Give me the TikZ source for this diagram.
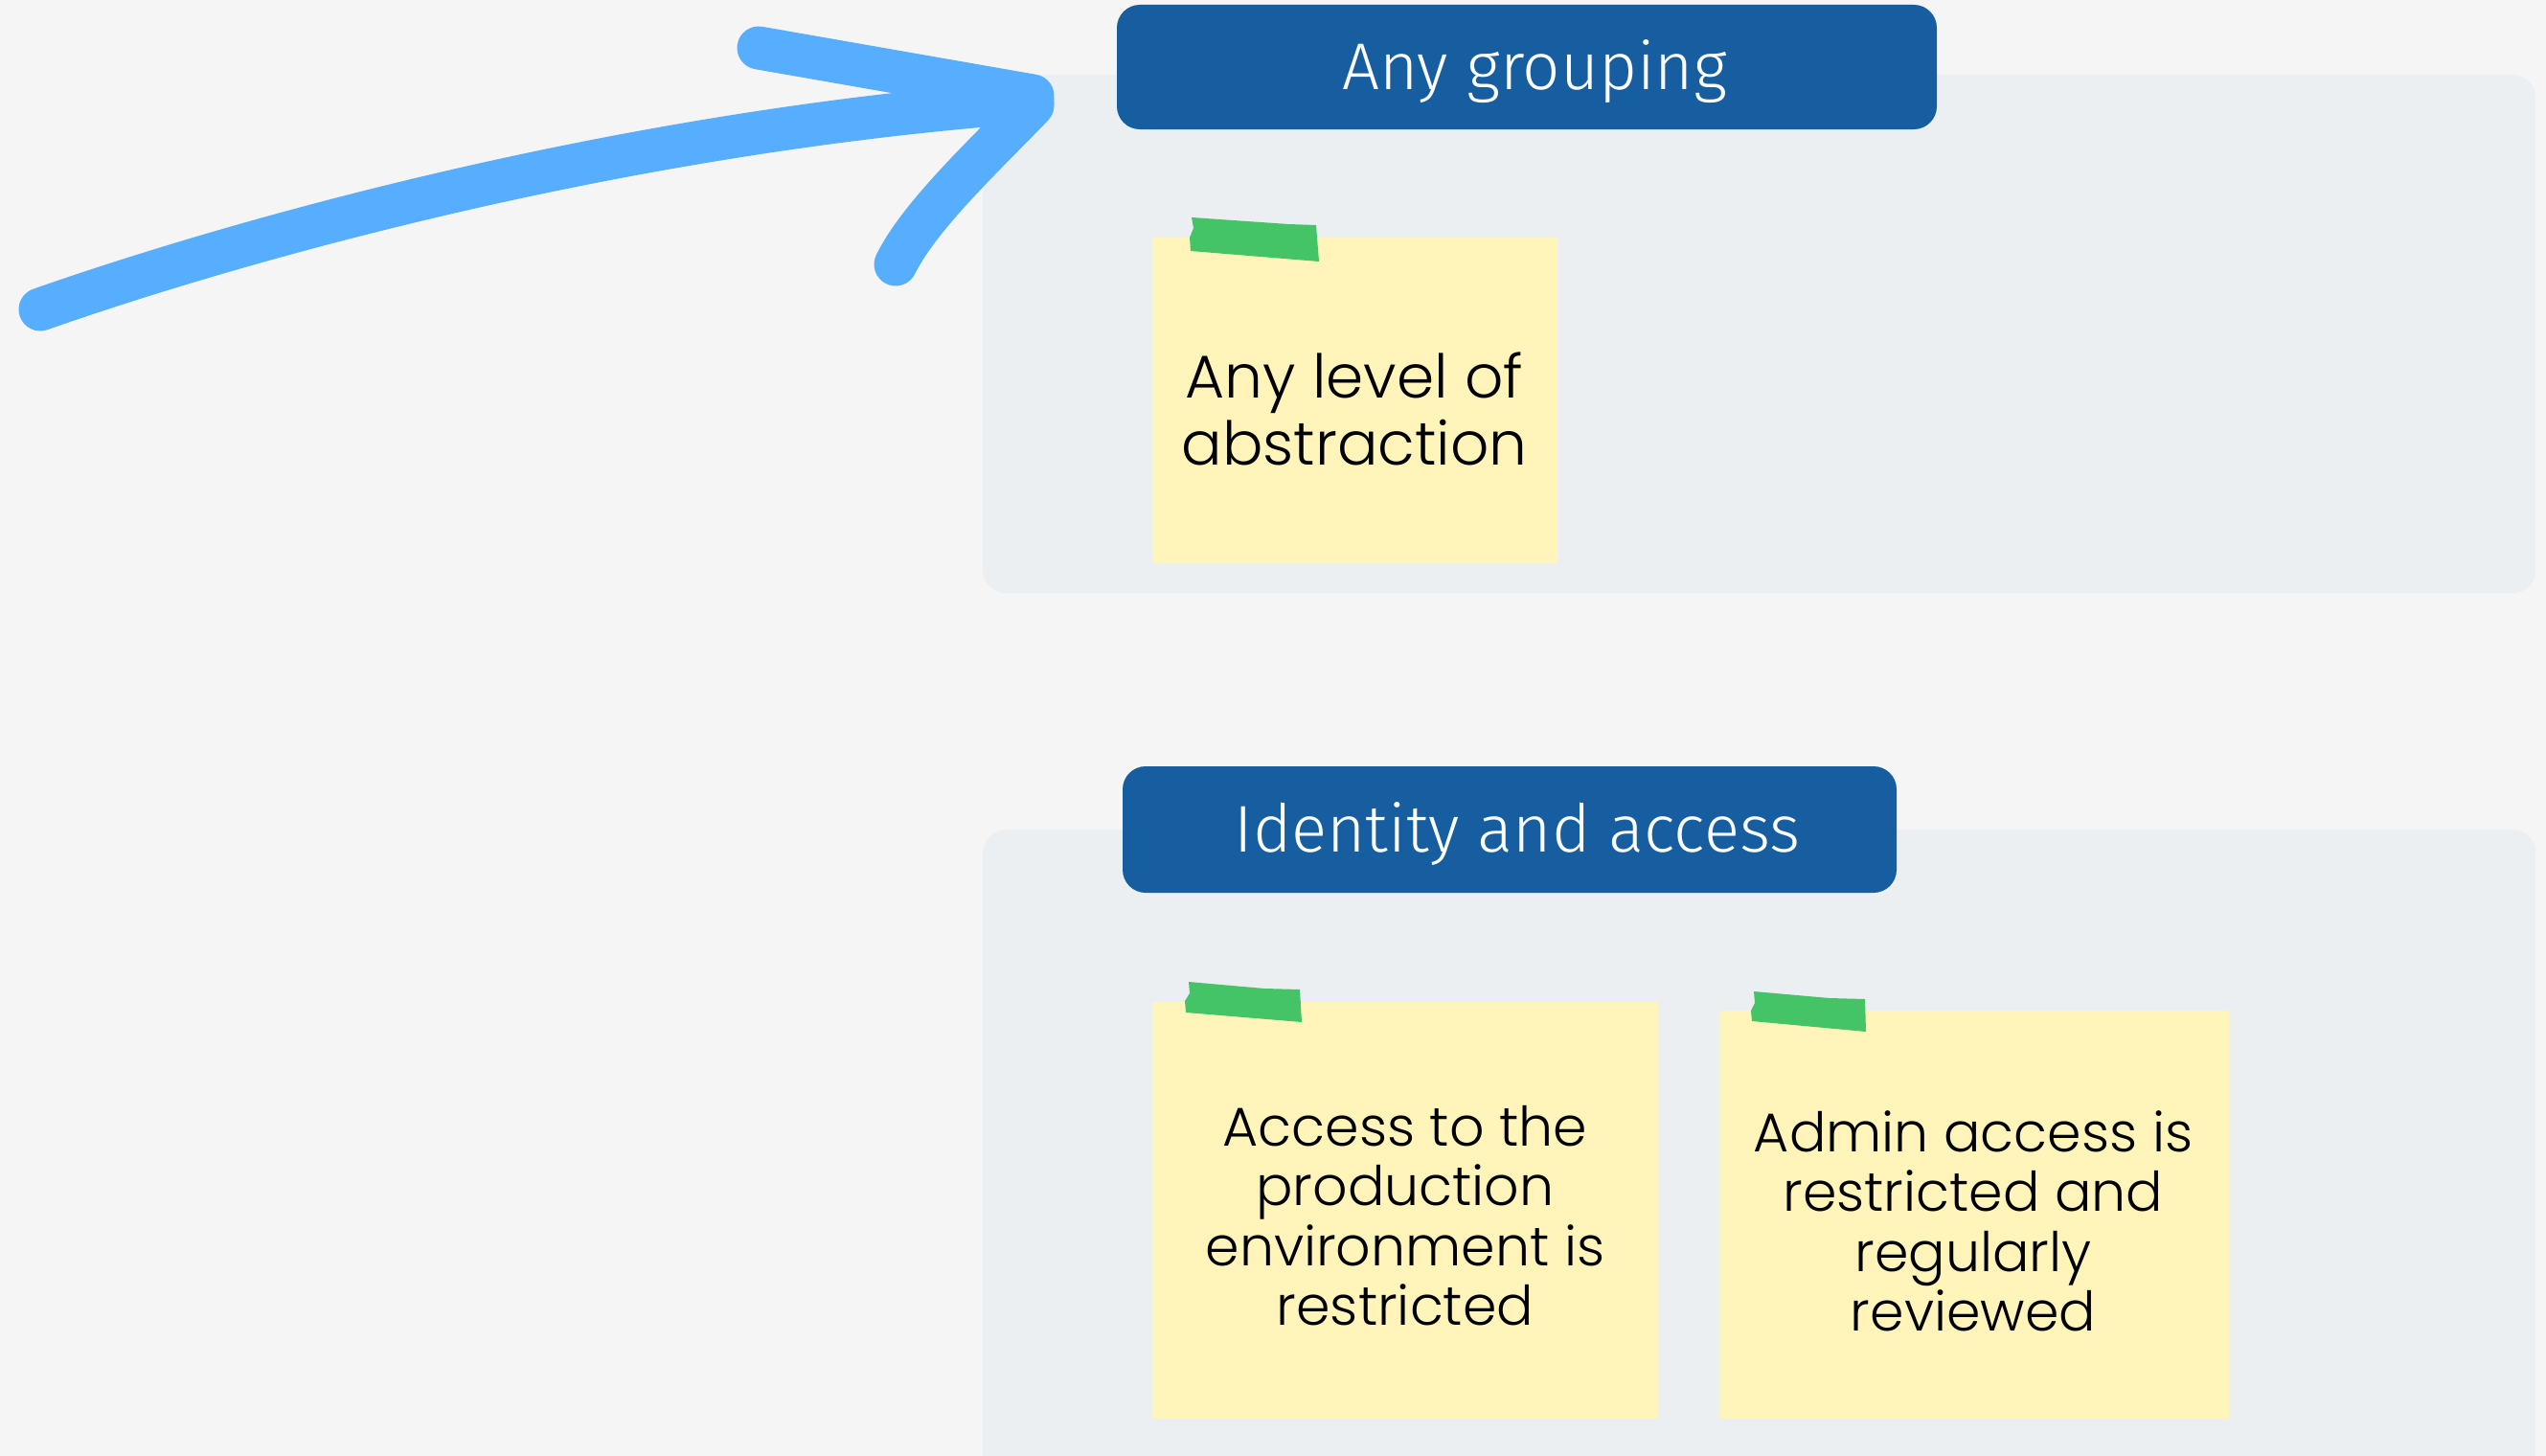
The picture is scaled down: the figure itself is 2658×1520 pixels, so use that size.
\documentclass[tikz,border=0pt]{standalone}
\usepackage{fontspec}
\newfontfamily\notefont{Poppins Light}
\newfontfamily\hdrfont{Fira Sans Light}
\definecolor{bgc}{HTML}{F5F5F5}
\definecolor{panelc}{HTML}{EBEFF2}
\definecolor{hdrblue}{HTML}{165EA0}
\definecolor{stickyc}{HTML}{FFF5BA}
\definecolor{tapegreen}{HTML}{44C467}
\definecolor{arrowblue}{HTML}{57AEFE}
\tikzset{
  panelbox/.style={fill=panelc, rounded corners=24pt, inner sep=0pt, anchor=north west},
  header/.style={fill=hdrblue, rounded corners=24pt, text=white, inner sep=0pt,
    font={\hdrfont\fontsize{69}{80}\selectfont}, text height=56pt, text depth=10pt},
  stickynote/.style={fill=stickyc, inner sep=0pt, anchor=north west},
  notetext/.style={align=center, inner sep=0pt, anchor=north, text=black,
    font={\notefont\fontsize{57}{62.5}\selectfont}},
  tapestrip/.style={fill=tapegreen},
  penstroke/.style={draw=arrowblue, line width=45pt, line cap=round, line join=round}
}
\begin{document}
\begin{tikzpicture}[x=1pt,y=-1pt]
\useasboundingbox (0,0) rectangle (2658,1520);
\fill[bgc] (0,0) rectangle (2658,1520);

% group panels
\node[panelbox, minimum width=1621pt, minimum height=541pt] (g1) at (1026,78) {};
\node[panelbox, minimum width=1621pt, minimum height=700pt] (g2) at (1026,866) {};

% headers
\node[header, minimum width=856pt, minimum height=130pt] (h1) at (1594,70) {\hspace*{16pt}Any grouping};
\node[header, minimum width=808pt, minimum height=132pt] (h2) at (1576,866) {\hspace*{16pt}Identity and access};

% sticky notes
\node[stickynote, minimum width=423pt, minimum height=340pt] (n1) at (1203,248) {};
\node[stickynote, minimum width=528pt, minimum height=435pt] (n2) at (1203,1046) {};
\node[stickynote, minimum width=531pt, minimum height=426pt] (n3) at (1796,1055) {};

% tapes
\fill[tapestrip] (1244,227) -- (1345,234) -- (1374,235) -- (1377,273) -- (1243,262) -- (1242,248) -- (1246,238) -- cycle;
\fill[tapestrip, shift={(1241,1025)}] (0,0) -- (79,7) -- (116,8) -- (118,42) -- (-3,32) -- (-4,20) -- (1,12) -- cycle;
\fill[tapestrip, shift={(1831,1035)}] (0,0) -- (79,7) -- (116,8) -- (117,42) -- (-2,31) -- (-3,20) -- (1,12) -- cycle;

% note texts
\node[notetext, font={\notefont\fontsize{63}{70}\selectfont}] (t1) at (1414,365) {\rule{0pt}{50pt}Any level of\\abstraction};
\node[notetext] (t2) at (1467,1146) {\rule{0pt}{50pt}Access to the\\production\\environment is\\restricted};
\node[notetext] (t3) at (2060,1152) {\rule{0pt}{50pt}Admin access is\\restricted and\\regularly\\reviewed};

% hand-drawn arrow
\coordinate (tail) at (42,323);
\coordinate (tip) at (1078,106);
\coordinate (barbup) at (792,50);
\coordinate (barblo) at (935,276);
\draw[penstroke] (tail) .. controls (250,250) and (650,137) .. (tip);
\draw[penstroke] (barbup) -- (1078,100);
\draw[penstroke] (1078,110) .. controls (1030,160) and (960,225) .. (barblo);
\end{tikzpicture}
\end{document}
